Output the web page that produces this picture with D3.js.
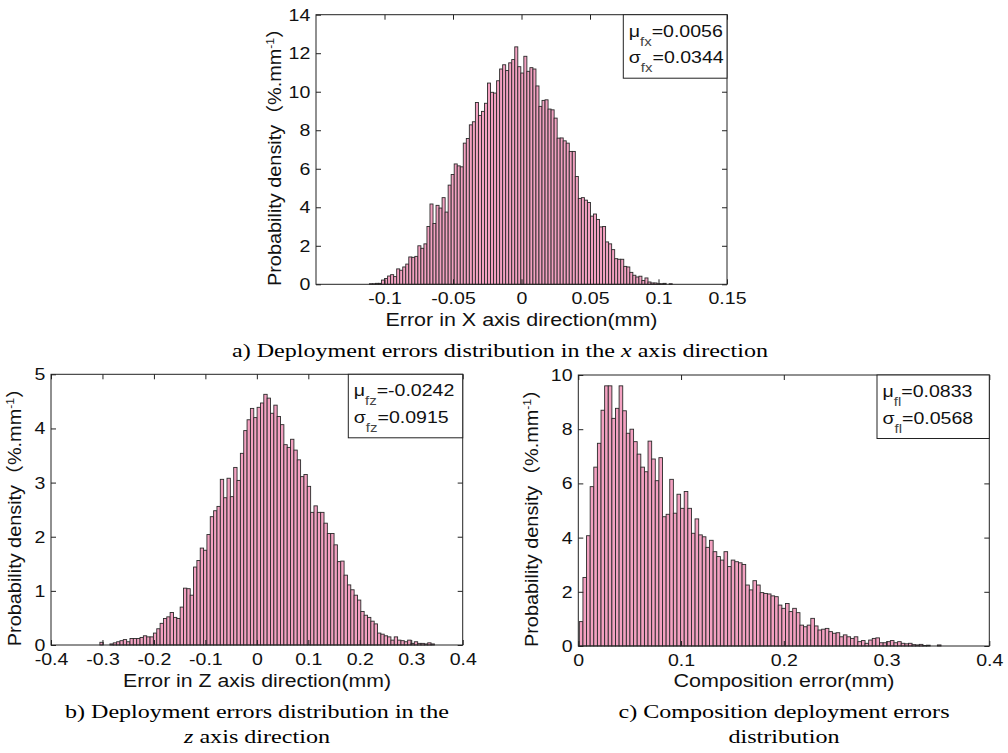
<!DOCTYPE html>
<meta charset="utf-8">
<style>
html, body { margin: 0; padding: 0; background: #fff; overflow: hidden; }
svg { display: block; }
.tick line { stroke: #222; }
</style>
<svg width="1008" height="753"></svg>
<script src="https://cdn.jsdelivr.net/npm/d3@7"></script>
<script>
// ---- data ----
// a) error in X direction, histogram of 100 bins
var xBinStart = -0.111, xBinWidth = 0.00221;
var xDensity = [0.03, 0.03, 0.05, 0.05, 0.22, 0.3, 0.43, 0.5, 0.4, 0.8,
    0.73, 0.9, 1.05, 1.42, 1.4, 1.45, 2.0, 1.87, 2.1, 3.0,
    4.17, 3.16, 4.1, 3.96, 4.5, 3.75, 5.15, 5.7, 6.25, 6.15,
    6.1, 7.33, 7.57, 8.28, 8.44, 9.44, 8.77, 8.98, 9.4, 10.45,
    9.97, 9.93, 10.57, 11.18, 11.4, 11.1, 11.5, 11.67, 12.33, 11.3,
    10.97, 11.84, 11.06, 11.25, 11.18, 10.3, 9.24, 9.55, 9.58, 9.1,
    9.06, 8.63, 7.59, 7.6, 7.45, 7.33, 6.9, 6.9, 5.6, 4.46,
    4.5, 4.37, 4.25, 3.54, 3.65, 3.37, 2.98, 3.0, 2.2, 2.1,
    1.8, 1.33, 1.3, 1.3, 0.93, 0.9, 0.62, 0.47, 0.38, 0.42,
    0.2, 0.33, 0.12, 0.07, 0.07, 0.03, 0.03, 0.05, 0.0, 0.03];

// b) error in Z direction
var zBinStart = -0.305, zBinWidth = 0.0065;
var zDensity = [0.05, 0.0, 0.0, 0.02, 0.04, 0.06, 0.08, 0.1, 0.06, 0.12,
    0.12, 0.12, 0.14, 0.17, 0.15, 0.15, 0.22, 0.3, 0.4, 0.49,
    0.52, 0.6, 0.51, 0.49, 0.7, 1.05, 1.04, 0.92, 1.44, 1.56,
    1.79, 1.75, 2.04, 2.37, 2.48, 2.56, 3.06, 2.72, 3.08, 2.74,
    3.28, 3.04, 3.54, 3.96, 4.16, 4.37, 4.2, 4.39, 4.47, 4.63,
    4.56, 4.28, 4.43, 4.22, 4.07, 3.7, 3.65, 3.8, 3.6, 3.42,
    3.11, 3.15, 2.93, 2.45, 2.57, 2.45, 2.45, 2.25, 2.06, 2.06,
    1.85, 1.54, 1.55, 1.29, 1.11, 1.02, 0.92, 0.83, 0.62, 0.55,
    0.51, 0.44, 0.39, 0.22, 0.2, 0.17, 0.15, 0.09, 0.15, 0.09,
    0.08, 0.06, 0.09, 0.03, 0.06, 0.03, 0.03, 0.02, 0.04, 0.02];

// c) composition error
var cBinStart = 0.001, cBinWidth = 0.00352;
var cDensity = [0.9, 2.53, 4.07, 5.88, 6.6, 7.48, 8.7, 9.6, 9.6, 8.4,
    8.77, 9.6, 8.68, 7.85, 8.0, 7.54, 7.08, 6.6, 6.43, 7.56,
    6.9, 6.1, 6.95, 4.77, 4.86, 6.15, 4.9, 5.6, 5.08, 5.7,
    5.08, 4.16, 4.69, 4.1, 4.03, 3.64, 3.9, 3.48, 3.3, 3.17,
    3.48, 2.93, 3.17, 3.11, 3.07, 3.01, 2.25, 2.07, 2.41, 2.25,
    1.97, 1.94, 1.92, 1.85, 1.82, 1.51, 1.39, 1.57, 1.27, 1.39,
    1.23, 0.77, 0.71, 0.77, 1.02, 0.74, 0.59, 0.62, 0.65, 0.53,
    0.47, 0.49, 0.34, 0.41, 0.34, 0.28, 0.34, 0.16, 0.2, 0.1,
    0.22, 0.28, 0.3, 0.12, 0.12, 0.16, 0.2, 0.12, 0.16, 0.1,
    0.08, 0.1, 0.05, 0.04, 0.06, 0.02, 0.03, 0.0, 0.0, 0.04];

var xTicksA = [-0.1, -0.05, 0, 0.05, 0.1, 0.15], yTicksA = [0, 2, 4, 6, 8, 10, 12, 14];
var xTicksB = [-0.4, -0.3, -0.2, -0.1, 0, 0.1, 0.2, 0.3, 0.4], yTicksB = [0, 1, 2, 3, 4, 5];
var xTicksC = [0, 0.1, 0.2, 0.3, 0.4], yTicksC = [0, 2, 4, 6, 8, 10];

var statsA = [["μ", "fx", "=0.0056"], ["σ", "fx", "=0.0344"]];
var statsB = [["μ", "fz", "=-0.0242"], ["σ", "fz", "=0.0915"]];
var statsC = [["μ", "fl", "=0.0833"], ["σ", "fl", "=0.0568"]];

var svg = d3.select("svg");
var sans = "'Liberation Sans', Arial, 'Noto Sans CJK SC', sans-serif";
var serif = "'Liberation Serif', 'Times New Roman', serif";
var barFill = "#f3a1c1", barEdge = "#2b2b2b";

function fmt(d) { return String(+d.toFixed(2)); }

function panel(box, xDom, yDom, xTicks, yTicks, binStart, binWidth, dens, stats, legW, yLabX) {
    var x = d3.scaleLinear().domain(xDom).range([box.l, box.r]);
    var y = d3.scaleLinear().domain(yDom).range([box.b, box.t]);
    var g = svg.append("g");

    g.append("g").selectAll("rect")
        .data(dens)
        .enter().append("rect")
        .attr("x", function(d, i) { return x(binStart + i * binWidth); })
        .attr("width", x(binWidth) - x(0))
        .attr("y", function(d) { return y(d); })
        .attr("height", function(d) { return y(0) - y(d); })
        .attr("fill", barFill)
        .attr("stroke", barEdge)
        .attr("stroke-width", 0.9);

    var ax = g.append("g").attr("transform", "translate(0," + box.b + ")")
        .call(d3.axisBottom(x).tickValues(xTicks).tickSizeInner(-5).tickSizeOuter(0).tickPadding(8).tickFormat(fmt));
    g.append("g").attr("transform", "translate(0," + box.t + ")")
        .call(d3.axisTop(x).tickValues(xTicks).tickSizeInner(-5).tickSizeOuter(0).tickFormat(""));
    var ay = g.append("g").attr("transform", "translate(" + box.l + ",0)")
        .call(d3.axisLeft(y).tickValues(yTicks).tickSizeInner(-5).tickSizeOuter(0).tickPadding(5).tickFormat(fmt));
    g.append("g").attr("transform", "translate(" + box.r + ",0)")
        .call(d3.axisRight(y).tickValues(yTicks).tickSizeInner(-5).tickSizeOuter(0).tickFormat(""));
    g.selectAll(".domain").remove();
    g.selectAll(".tick text")
        .attr("font-family", sans).attr("font-size", 17).attr("fill", "#111")
        .attr("transform", "scale(1.15,1)");

    g.append("rect")
        .attr("x", box.l).attr("y", box.t)
        .attr("width", box.r - box.l).attr("height", box.b - box.t)
        .attr("fill", "none").attr("stroke", "#222").attr("stroke-width", 1);

    // stats box
    var lx = box.r - legW, ly = box.t;
    g.append("rect")
        .attr("x", lx).attr("y", ly).attr("width", legW).attr("height", 63.5)
        .attr("fill", "#fff").attr("stroke", "#222").attr("stroke-width", 1);
    stats.forEach(function(s, k) {
        var t = g.append("text")
            .attr("transform", "translate(" + (lx + 5.5) + "," + (ly + 22 + k * 26.6) + ") scale(1.15,1)")
            .attr("font-family", sans).attr("font-size", 17).attr("fill", "#111");
        t.append("tspan").text(s[0]);
        t.append("tspan").attr("dy", 9).attr("font-size", 13).attr("fill", "#444").text(s[1]);
        t.append("tspan").attr("dy", -9).text(s[2]);
    });

    // y label
    var yl = g.append("text")
        .attr("transform", "translate(" + yLabX + "," + ((box.t + box.b) / 2 + 2.5) + ") rotate(-90)")
        .attr("text-anchor", "middle")
        .attr("font-family", sans).attr("font-size", 18).attr("fill", "#111")
        .attr("textLength", 268).attr("lengthAdjust", "spacingAndGlyphs");
    yl.append("tspan").text("Probability density（%.mm");
    yl.append("tspan").attr("dy", -7).attr("font-size", 11).text("-1");
    yl.append("tspan").attr("dy", 7).text("）");
    return { x: x, y: y };
}

function label(txt, cx, by, len, size) {
    svg.append("text")
        .attr("x", cx).attr("y", by)
        .attr("text-anchor", "middle")
        .attr("font-family", sans).attr("font-size", size || 17.5).attr("fill", "#111")
        .attr("textLength", len).attr("lengthAdjust", "spacingAndGlyphs")
        .text(txt);
}

function caption(parts, cx, by, len) {
    var t = svg.append("text")
        .attr("x", cx).attr("y", by)
        .attr("text-anchor", "middle")
        .attr("font-family", serif).attr("font-size", 19.5).attr("fill", "#000")
        .attr("textLength", len).attr("lengthAdjust", "spacingAndGlyphs");
    parts.forEach(function(p) {
        var s = t.append("tspan").text(p[0]);
        if (p[1]) s.attr("font-style", "italic");
    });
}

var boxA = { l: 316, t: 14.7, r: 727, b: 284.3 };
var boxB = { l: 51, t: 374.3, r: 462.7, b: 645 };
var boxC = { l: 578.3, t: 375, r: 989.3, b: 646 };

panel(boxA, [-0.15, 0.15], [0, 14], xTicksA, yTicksA, xBinStart, xBinWidth, xDensity, statsA, 103.7, 281);
panel(boxB, [-0.4, 0.4], [0, 5], xTicksB, yTicksB, zBinStart, zBinWidth, zDensity, statsB, 114.4, 21);
panel(boxC, [0, 0.4], [0, 10], xTicksC, yTicksC, cBinStart, cBinWidth, cDensity, statsC, 112.3, 538);

label("Error in X axis direction(mm)", 521.5, 325.5, 272);
label("Error in Z axis direction(mm)", 257, 686.5, 268);
label("Composition error(mm)", 784, 686.5, 221);

caption([["a) Deployment errors distribution in the "], ["x", true], [" axis direction"]], 500, 357, 536);
caption([["b) Deployment errors distribution in the"]], 257, 718, 384);
caption([["z", true], [" axis direction"]], 257, 743, 146);
caption([["c) Composition deployment errors"]], 784, 718, 331);
caption([["distribution"]], 784, 743, 111);
</script>
